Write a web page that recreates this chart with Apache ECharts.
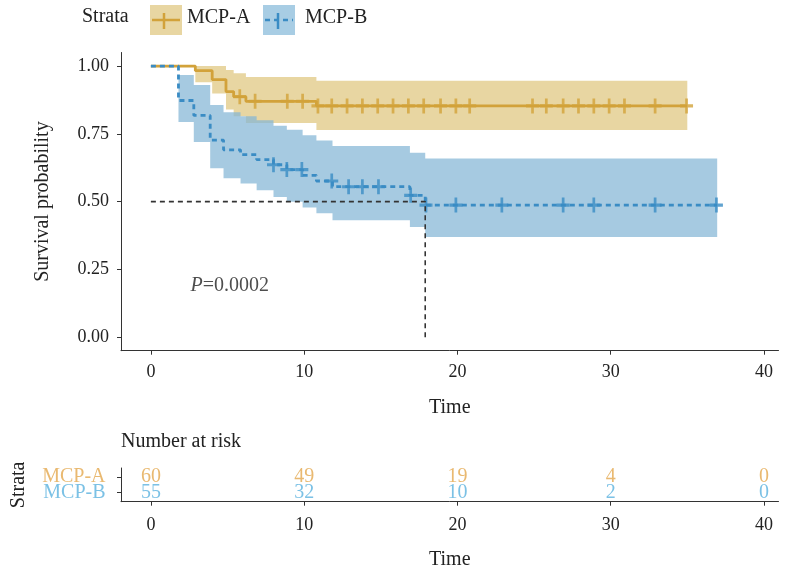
<!DOCTYPE html>
<html><head><meta charset="utf-8">
<script src="https://cdn.jsdelivr.net/npm/echarts@6/dist/echarts.min.js"></script>
<style>html,body{margin:0;padding:0;background:#fff}#c{width:788px;height:573px}</style>
</head><body><div id="c"></div>
<script>
// ---- data ----
const aTimes = [0, 2.9, 4.0, 4.9, 5.4, 6.2, 10.8, 35.0];
const aSurv  = [1, 0.983, 0.95, 0.906, 0.887, 0.870, 0.853, 0.853];
const aUpper = [1, 1, 1, 0.985, 0.973, 0.96, 0.946, 0.946];
const aLower = [1, 0.94, 0.899, 0.84, 0.815, 0.79, 0.764, 0.764];
const aCensor = [5.8, 6.8, 8.9, 9.9, 10.9, 11.8, 12.8, 13.8, 14.8, 15.8, 16.8, 17.8, 18.9, 19.9, 20.8,
                 24.9, 25.8, 26.9, 27.9, 28.9, 29.9, 30.9, 32.9, 34.95];

const bTimes = [0, 1.8, 2.8, 3.87, 4.74, 5.85, 6.9, 8.0, 8.87, 9.9, 10.8, 11.85, 16.9, 17.9, 36.95];
const bSurv  = [1, 0.873, 0.818, 0.727, 0.691, 0.673, 0.655, 0.636, 0.618, 0.597, 0.576, 0.555, 0.523, 0.487, 0.487];
const bUpper = [1, 0.967, 0.93, 0.856, 0.83, 0.815, 0.80, 0.78, 0.765, 0.745, 0.725, 0.705, 0.68, 0.659, 0.659];
const bLower = [1, 0.794, 0.72, 0.623, 0.586, 0.567, 0.542, 0.517, 0.499, 0.478, 0.457, 0.431, 0.406, 0.369, 0.369];
const bCensor = [8.0, 8.87, 9.85, 11.8, 12.9, 13.8, 14.85, 16.95, 17.95, 19.9, 22.9, 26.9, 28.9, 32.9, 36.9];

const medianTime = 17.9;
const medianSurv = 0.5;
const pText = '=0.0002';

const xTicks = [0, 10, 20, 30, 40];
const yTicks = [0, 0.25, 0.5, 0.75, 1];
const strata = ['MCP-A', 'MCP-B'];
const strataRow = [2, 1];
const riskTimes = [0, 10, 20, 30, 40];
const riskA = [60, 49, 19, 4, 0];
const riskB = [55, 32, 10, 2, 0];

// ---- styles ----
const FONT = '"Liberation Serif", "DejaVu Serif", serif';
const TXT = '#222';
const GOLD = '#D2A23A';
const BLUE = '#3A8CC4';
const GOLD_FILL = 'rgb(232,214,162)';
const BLUE_FILL = 'rgba(131,182,214,0.72)';
const GOLD_TXT = '#E3A84E';
const BLUE_TXT = '#5AB2DF';
const PLUS = 'path://M4.75,0h2.5v4.75h4.75v2.5h-4.75v4.75h-2.5v-4.75h-4.75v-2.5h4.75z';
const X_MIN = -1.95, X_MAX = 40.95;

function stepAt(times, surv, t) {
  let v = surv[0];
  for (let i = 0; i < times.length; i++) if (times[i] <= t) v = surv[i];
  return v;
}

function band(times, lower, upper, fill, z) {
  return {
    type: 'custom', xAxisIndex: 0, yAxisIndex: 0, z: z, silent: true,
    data: times.map((t, i) => [t, lower[i], upper[i]]),
    encode: { x: 0, y: [1, 2] },
    renderItem: function (params, api) {
      if (params.dataIndex !== 0) return null;
      const up = [], lo = [];
      for (let i = 0; i < times.length - 1; i++) {
        up.push(api.coord([times[i], upper[i]]));
        up.push(api.coord([times[i + 1], upper[i]]));
        lo.push(api.coord([times[i], lower[i]]));
        lo.push(api.coord([times[i + 1], lower[i]]));
      }
      return { type: 'polygon', shape: { points: up.concat(lo.reverse()) }, style: { fill: fill } };
    }
  };
}

const axisLineStyle = { show: true, onZero: false, lineStyle: { color: '#333', width: 1 } };
const tickStyle = { show: true, length: 4, lineStyle: { color: '#333', width: 1 } };

const chart = echarts.init(document.getElementById('c'), null, { renderer: 'canvas' });

const option = {
  backgroundColor: '#fff',
  animation: false,
  textStyle: { fontFamily: FONT },
  grid: [
    { left: 121, top: 52.5, width: 657.5, height: 298.2, containLabel: false, outerBoundsMode: 'none' },
    { left: 121, top: 468, width: 657.5, height: 33.7, containLabel: false, outerBoundsMode: 'none' }
  ],
  xAxis: [
    {
      type: 'value', gridIndex: 0, min: X_MIN, max: X_MAX,
      axisLine: axisLineStyle, axisTick: Object.assign({ customValues: xTicks }, tickStyle),
      splitLine: { show: false },
      axisLabel: { customValues: xTicks, color: TXT, fontSize: 18, fontFamily: FONT, margin: 13, hideOverlap: false },
      name: 'Time', nameLocation: 'middle', nameGap: 47,
      nameTextStyle: { color: TXT, fontSize: 20, fontFamily: FONT }
    },
    {
      type: 'value', gridIndex: 1, min: X_MIN, max: X_MAX,
      axisLine: axisLineStyle, axisTick: Object.assign({ customValues: riskTimes }, tickStyle),
      splitLine: { show: false },
      axisLabel: { customValues: riskTimes, color: TXT, fontSize: 18, fontFamily: FONT, margin: 15, hideOverlap: false },
      name: 'Time', nameLocation: 'middle', nameGap: 48,
      nameTextStyle: { color: TXT, fontSize: 20, fontFamily: FONT }
    }
  ],
  yAxis: [
    {
      type: 'value', gridIndex: 0, min: -0.05, max: 1.05,
      axisLine: axisLineStyle, axisTick: Object.assign({ customValues: yTicks }, tickStyle),
      splitLine: { show: false },
      axisLabel: { customValues: yTicks, color: TXT, fontSize: 18, fontFamily: FONT, margin: 12, hideOverlap: false,
                   formatter: v => v.toFixed(2) },
      name: 'Survival probability', nameLocation: 'middle', nameGap: 68, nameRotate: 90,
      nameTextStyle: { color: TXT, fontSize: 20, fontFamily: FONT }
    },
    {
      type: 'value', gridIndex: 1, min: 0.4, max: 2.6,
      axisLine: axisLineStyle, axisTick: Object.assign({ customValues: strataRow }, tickStyle),
      splitLine: { show: false },
      axisLabel: { show: false },
      name: 'Strata', nameLocation: 'middle', nameGap: 92, nameRotate: 90,
      nameTextStyle: { color: TXT, fontSize: 20, fontFamily: FONT }
    }
  ],
  graphic: [
    { type: 'text', left: 82, top: 7, style: { text: 'Strata', fill: TXT, font: '20px ' + FONT } },
    { type: 'rect', shape: { x: 150, y: 5, width: 32, height: 30 }, style: { fill: GOLD_FILL } },
    { type: 'line', shape: { x1: 152, y1: 20, x2: 180, y2: 20 }, style: { stroke: GOLD, lineWidth: 2.5 } },
    { type: 'line', shape: { x1: 164, y1: 13, x2: 164, y2: 29 }, style: { stroke: GOLD, lineWidth: 2.5 } },
    { type: 'text', left: 187, top: 8, style: { text: strata[0], fill: TXT, font: '20px ' + FONT } },
    { type: 'rect', shape: { x: 263, y: 5, width: 32, height: 30 }, style: { fill: 'rgb(168,205,228)' } },
    { type: 'line', shape: { x1: 265, y1: 20, x2: 293, y2: 20 }, style: { stroke: BLUE, lineWidth: 2.5, lineDash: [5, 4] } },
    { type: 'line', shape: { x1: 278, y1: 13, x2: 278, y2: 29 }, style: { stroke: BLUE, lineWidth: 2.5 } },
    { type: 'text', left: 305, top: 8, style: { text: strata[1], fill: TXT, font: '20px ' + FONT } },
    { type: 'text', left: 121, top: 432, style: { text: 'Number at risk', fill: TXT, font: '20px ' + FONT } }
  ],
  series: [
    band(aTimes, aLower, aUpper, GOLD_FILL, 1),
    band(bTimes, bLower, bUpper, BLUE_FILL, 2),
    {
      type: 'line', xAxisIndex: 0, yAxisIndex: 0, z: 3, step: 'end', showSymbol: false, silent: true,
      data: aTimes.map((t, i) => [t, aSurv[i]]),
      lineStyle: { color: GOLD, width: 2.8 }
    },
    {
      type: 'line', xAxisIndex: 0, yAxisIndex: 0, z: 4, step: 'end', showSymbol: false, silent: true,
      data: bTimes.map((t, i) => [t, bSurv[i]]),
      lineStyle: { color: BLUE, width: 2.8, type: [5, 4] }
    },
    {
      type: 'scatter', xAxisIndex: 0, yAxisIndex: 0, z: 5, silent: true,
      symbol: PLUS, symbolSize: [13, 15],
      data: aCensor.map(t => [t, stepAt(aTimes, aSurv, t)]),
      itemStyle: { color: GOLD }
    },
    {
      type: 'scatter', xAxisIndex: 0, yAxisIndex: 0, z: 6, silent: true,
      symbol: PLUS, symbolSize: [13, 15],
      data: bCensor.map(t => [t, stepAt(bTimes, bSurv, t)]),
      itemStyle: { color: BLUE }
    },
    {
      type: 'line', xAxisIndex: 0, yAxisIndex: 0, z: 7, showSymbol: false, silent: true,
      data: [[0, medianSurv], [medianTime, medianSurv], [medianTime, 0]],
      lineStyle: { color: '#333', width: 1.6, type: [5, 4] }
    },
    {
      type: 'scatter', xAxisIndex: 0, yAxisIndex: 0, z: 8, silent: true,
      symbolSize: 1, itemStyle: { color: 'rgba(0,0,0,0)' },
      data: [[2.56, 0.19]],
      label: {
        show: true, position: 'right', distance: 0,
        formatter: '{i|P}{n|' + pText + '}',
        rich: {
          i: { fontStyle: 'italic', fontSize: 20, fontFamily: FONT, color: TXT },
          n: { fontSize: 20, fontFamily: FONT, color: TXT }
        }
      }
    },
    {
      // strata row names of the risk table, placed at the left edge of its grid
      type: 'scatter', xAxisIndex: 1, yAxisIndex: 1, z: 5, silent: true,
      symbolSize: 1, itemStyle: { color: 'rgba(0,0,0,0)' },
      data: strata.map((s, i) => ({ value: [X_MIN, strataRow[i]], name: s,
        label: { color: i === 0 ? GOLD_TXT : BLUE_TXT } })),
      label: { show: true, position: 'left', distance: 15, formatter: p => p.name,
               fontSize: 20, fontFamily: FONT }
    },
    {
      type: 'scatter', xAxisIndex: 1, yAxisIndex: 1, z: 5, silent: true,
      symbolSize: 1, itemStyle: { color: 'rgba(0,0,0,0)' },
      data: riskTimes.map((t, i) => [t, strataRow[0], riskA[i]]),
      label: { show: true, position: 'inside', formatter: p => String(p.value[2]),
               color: GOLD_TXT, fontSize: 20, fontFamily: FONT }
    },
    {
      type: 'scatter', xAxisIndex: 1, yAxisIndex: 1, z: 5, silent: true,
      symbolSize: 1, itemStyle: { color: 'rgba(0,0,0,0)' },
      data: riskTimes.map((t, i) => [t, strataRow[1], riskB[i]]),
      label: { show: true, position: 'inside', formatter: p => String(p.value[2]),
               color: BLUE_TXT, fontSize: 20, fontFamily: FONT }
    }
  ]
};
chart.setOption(option);
</script></body></html>
